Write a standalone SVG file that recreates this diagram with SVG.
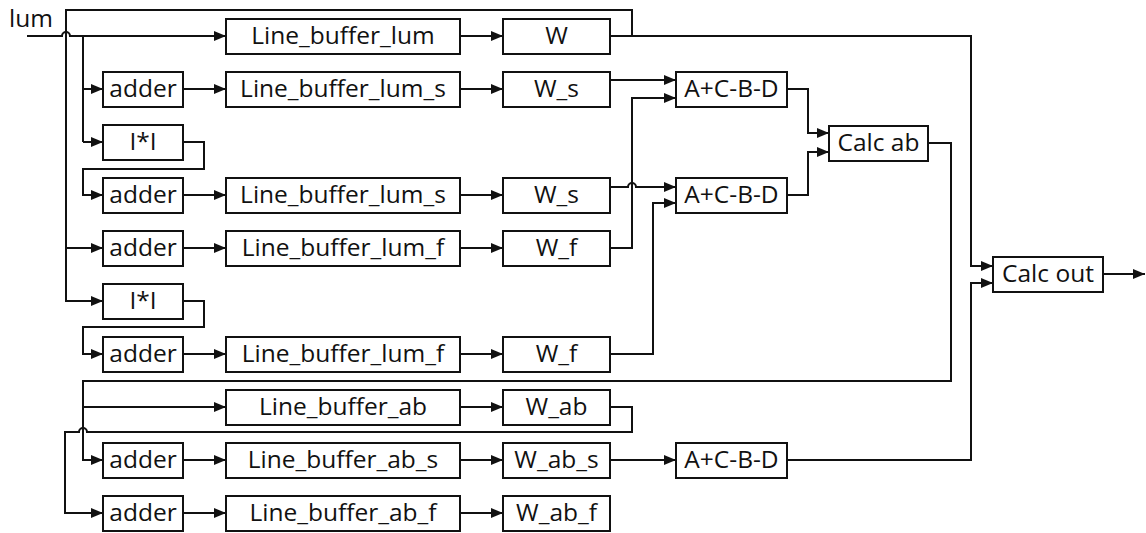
<svg xmlns="http://www.w3.org/2000/svg" width="1146" height="533" viewBox="0 0 1146 533">
  <style>
    .box { fill: #ffffff; stroke: #111111; stroke-width: 2; }
    .lbl { font-family: "Open Sans", "Noto Sans", "DejaVu Sans", sans-serif; font-size: 24.5px; fill: #111111; text-anchor: middle; }
    .wire { fill: none; stroke: #111111; stroke-width: 2; }
    .arr { marker-end: url(#head); }
  </style>
  <defs>
    <marker id="head" markerUnits="userSpaceOnUse" markerWidth="12" markerHeight="10" refX="12" refY="5" orient="auto">
      <path d="M0,0 L12,5 L0,10 z" fill="#111111"/>
    </marker>
  </defs>
  <rect width="1146" height="533" fill="#ffffff"/>

  <text class="lbl" x="9" y="27" style="text-anchor:start">lum</text>

  <!-- connectors -->
  <g id="connectors">
    <!-- luminance input and its fan-out -->
    <path class="wire arr" d="M27 36 H62 A4 4 0 0 1 70 36 H226"/>
    <path class="wire" d="M83 36 V142"/>
    <path class="wire arr" d="M83 89 H103"/>
    <path class="wire arr" d="M83 142 H103"/>
    <!-- W feedback around the left rail -->
    <path class="wire arr" d="M632 36 V10 H66 V301 H103"/>
    <path class="wire arr" d="M66 248 H103"/>
    <!-- square loops -->
    <path class="wire arr" d="M183 142 H204 V169 H83 V195 H103"/>
    <path class="wire arr" d="M183 301 H204 V327 H83 V354 H103"/>
    <!-- adder -> line buffer -> window -->
    <path class="wire arr" d="M460 36 H503"/>
    <path class="wire arr" d="M183 89 H226"/>
    <path class="wire arr" d="M460 89 H503"/>
    <path class="wire arr" d="M183 195 H226"/>
    <path class="wire arr" d="M460 195 H503"/>
    <path class="wire arr" d="M183 248 H226"/>
    <path class="wire arr" d="M460 248 H503"/>
    <path class="wire arr" d="M183 354 H226"/>
    <path class="wire arr" d="M460 354 H503"/>
    <!-- windows -> A+C-B-D -->
    <path class="wire arr" d="M610 80 H676"/>
    <path class="wire arr" d="M610 248 H632 V98 H676"/>
    <path class="wire arr" d="M610 187 H628 A4 4 0 0 1 636 187 H676"/>
    <path class="wire arr" d="M610 354 H653 V203 H676"/>
    <!-- A+C-B-D -> Calc ab -->
    <path class="wire arr" d="M787 89 H808 V133 H829"/>
    <path class="wire arr" d="M787 195 H808 V152 H829"/>
    <!-- W -> Calc out -->
    <path class="wire arr" d="M610 36 H971 V266 H993"/>
    <!-- Calc ab -> ab chain -->
    <path class="wire arr" d="M928 143 H951 V381 H83 V460 H103"/>
    <path class="wire arr" d="M83 407 H226"/>
    <path class="wire arr" d="M610 407 H632 V432 H87 A4 4 0 0 0 79 432 H65 V513 H103"/>
    <path class="wire arr" d="M183 460 H226"/>
    <path class="wire arr" d="M460 407 H503"/>
    <path class="wire arr" d="M460 460 H503"/>
    <path class="wire arr" d="M183 513 H226"/>
    <path class="wire arr" d="M460 513 H503"/>
    <path class="wire arr" d="M610 460 H676"/>
    <path class="wire arr" d="M787 460 H971 V283 H993"/>
    <!-- output -->
    <path class="wire arr" d="M1103 274 H1145"/>
  </g>

  <!-- row 0 -->
  <g id="lb_lum"><rect class="box" x="226" y="19" width="234" height="35"/><text class="lbl" x="343" y="44">Line_buffer_lum</text></g>
  <g id="w"><rect class="box" x="503" y="19" width="107" height="35"/><text class="lbl" x="556.5" y="44">W</text></g>

  <!-- row 1 -->
  <g id="adder1"><rect class="box" x="103" y="72" width="80" height="35"/><text class="lbl" x="143" y="97">adder</text></g>
  <g id="lb_lum_s1"><rect class="box" x="226" y="72" width="234" height="35"/><text class="lbl" x="343" y="97">Line_buffer_lum_s</text></g>
  <g id="w_s1"><rect class="box" x="503" y="72" width="107" height="35"/><text class="lbl" x="556.5" y="97">W_s</text></g>
  <g id="acbd1"><rect class="box" x="676" y="72" width="111" height="35"/><text class="lbl" x="731.5" y="97">A+C-B-D</text></g>

  <!-- row 2 -->
  <g id="sq1"><rect class="box" x="103" y="125" width="80" height="35"/><text class="lbl" x="143" y="150">I*I</text></g>
  <g id="calc_ab"><rect class="box" x="829" y="126" width="99" height="35"/><text class="lbl" x="878.5" y="151">Calc ab</text></g>

  <!-- row 3 -->
  <g id="adder2"><rect class="box" x="103" y="178" width="80" height="35"/><text class="lbl" x="143" y="203">adder</text></g>
  <g id="lb_lum_s2"><rect class="box" x="226" y="178" width="234" height="35"/><text class="lbl" x="343" y="203">Line_buffer_lum_s</text></g>
  <g id="w_s2"><rect class="box" x="503" y="178" width="107" height="35"/><text class="lbl" x="556.5" y="203">W_s</text></g>
  <g id="acbd2"><rect class="box" x="676" y="178" width="111" height="35"/><text class="lbl" x="731.5" y="203">A+C-B-D</text></g>

  <!-- row 4 -->
  <g id="adder3"><rect class="box" x="103" y="231" width="80" height="35"/><text class="lbl" x="143" y="256">adder</text></g>
  <g id="lb_lum_f1"><rect class="box" x="226" y="231" width="234" height="35"/><text class="lbl" x="343" y="256">Line_buffer_lum_f</text></g>
  <g id="w_f1"><rect class="box" x="503" y="231" width="107" height="35"/><text class="lbl" x="556.5" y="256">W_f</text></g>
  <g id="calc_out"><rect class="box" x="993" y="257" width="110" height="35"/><text class="lbl" x="1048" y="282">Calc out</text></g>

  <!-- row 5 -->
  <g id="sq2"><rect class="box" x="103" y="284" width="80" height="35"/><text class="lbl" x="143" y="309">I*I</text></g>

  <!-- row 6 -->
  <g id="adder4"><rect class="box" x="103" y="337" width="80" height="35"/><text class="lbl" x="143" y="362">adder</text></g>
  <g id="lb_lum_f2"><rect class="box" x="226" y="337" width="234" height="35"/><text class="lbl" x="343" y="362">Line_buffer_lum_f</text></g>
  <g id="w_f2"><rect class="box" x="503" y="337" width="107" height="35"/><text class="lbl" x="556.5" y="362">W_f</text></g>

  <!-- row 7 -->
  <g id="lb_ab"><rect class="box" x="226" y="390" width="234" height="35"/><text class="lbl" x="343" y="415">Line_buffer_ab</text></g>
  <g id="w_ab"><rect class="box" x="503" y="390" width="107" height="35"/><text class="lbl" x="556.5" y="415">W_ab</text></g>

  <!-- row 8 -->
  <g id="adder5"><rect class="box" x="103" y="443" width="80" height="35"/><text class="lbl" x="143" y="468">adder</text></g>
  <g id="lb_ab_s"><rect class="box" x="226" y="443" width="234" height="35"/><text class="lbl" x="343" y="468">Line_buffer_ab_s</text></g>
  <g id="w_ab_s"><rect class="box" x="503" y="443" width="107" height="35"/><text class="lbl" x="556.5" y="468">W_ab_s</text></g>
  <g id="acbd3"><rect class="box" x="676" y="443" width="111" height="35"/><text class="lbl" x="731.5" y="468">A+C-B-D</text></g>

  <!-- row 9 -->
  <g id="adder6"><rect class="box" x="103" y="496" width="80" height="35"/><text class="lbl" x="143" y="521">adder</text></g>
  <g id="lb_ab_f"><rect class="box" x="226" y="496" width="234" height="35"/><text class="lbl" x="343" y="521">Line_buffer_ab_f</text></g>
  <g id="w_ab_f"><rect class="box" x="503" y="496" width="107" height="35"/><text class="lbl" x="556.5" y="521">W_ab_f</text></g>
</svg>
